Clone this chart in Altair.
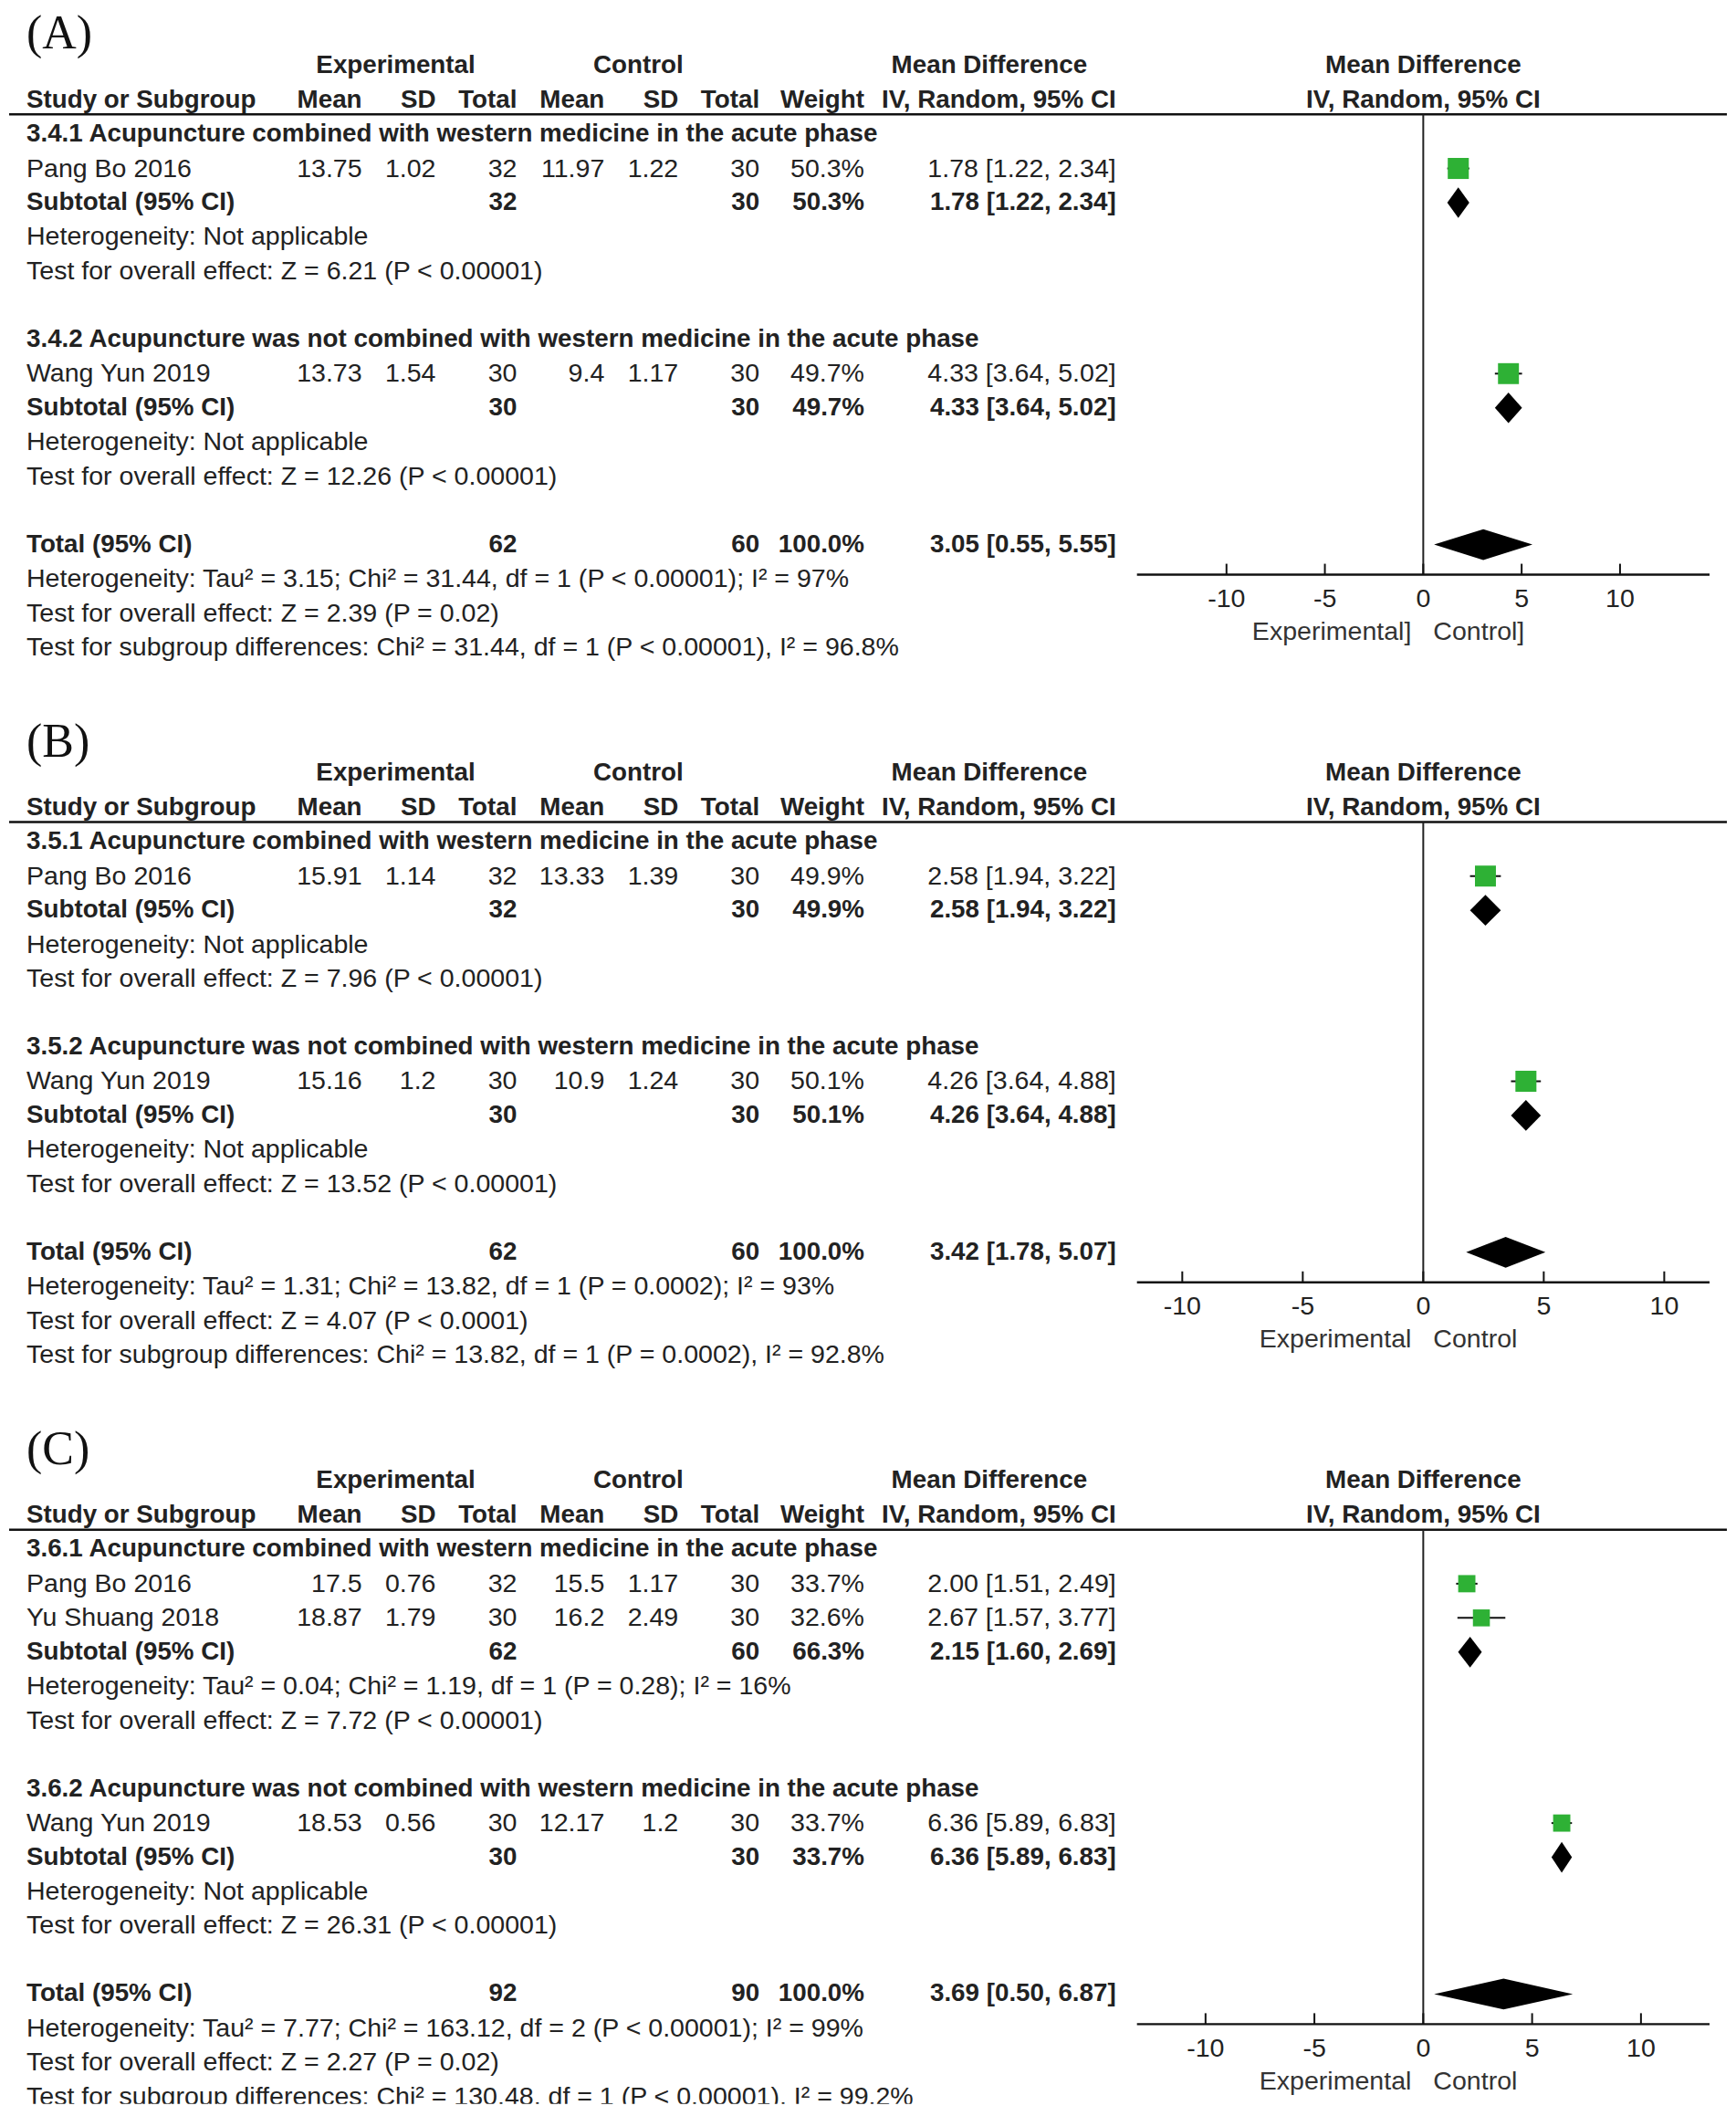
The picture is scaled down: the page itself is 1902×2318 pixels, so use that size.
import altair as alt
import pandas as pd

FONT = "Liberation Sans"
SERIF = "Liberation Serif"
TXT = "#222222"
GREEN = "#2eb135"
FS = 28.6
FSB = 27.8

# ---------------- Panel A ----------------
A_label = "(A)"
A_groups = ["3.4.1 Acupuncture combined with western medicine in the acute phase",
            "3.4.2 Acupuncture was not combined with western medicine in the acute phase"]
A_study = ["Pang Bo 2016", "Wang Yun 2019"]
A_study_group = [0, 1]
A_exp_mean = [13.75, 13.73]
A_exp_sd = [1.02, 1.54]
A_exp_n = [32, 30]
A_ctl_mean = [11.97, 9.4]
A_ctl_sd = [1.22, 1.17]
A_ctl_n = [30, 30]
A_weight = [50.3, 49.7]
A_md = [1.78, 4.33]
A_lo = [1.22, 3.64]
A_hi = [2.34, 5.02]
A_sub_exp_n = [32, 30]
A_sub_ctl_n = [30, 30]
A_sub_weight = [50.3, 49.7]
A_sub_md = [1.78, 4.33]
A_sub_lo = [1.22, 3.64]
A_sub_hi = [2.34, 5.02]
A_sub_het = ["Heterogeneity: Not applicable", "Heterogeneity: Not applicable"]
A_sub_test = ["Test for overall effect: Z = 6.21 (P < 0.00001)",
              "Test for overall effect: Z = 12.26 (P < 0.00001)"]
A_tot_n = [62, 60]
A_tot_weight = 100.0
A_tot_ci = [3.05, 0.55, 5.55]
A_tot_notes = ["Heterogeneity: Tau\u00b2 = 3.15; Chi\u00b2 = 31.44, df = 1 (P < 0.00001); I\u00b2 = 97%",
               "Test for overall effect: Z = 2.39 (P = 0.02)",
               "Test for subgroup differences: Chi\u00b2 = 31.44, df = 1 (P < 0.00001), I\u00b2 = 96.8%"]
A_xlim = 14.55
A_dirs = ["Experimental]", "Control]"]

# ---------------- Panel B ----------------
B_label = "(B)"
B_groups = ["3.5.1 Acupuncture combined with western medicine in the acute phase",
            "3.5.2 Acupuncture was not combined with western medicine in the acute phase"]
B_study = ["Pang Bo 2016", "Wang Yun 2019"]
B_study_group = [0, 1]
B_exp_mean = [15.91, 15.16]
B_exp_sd = [1.14, 1.2]
B_exp_n = [32, 30]
B_ctl_mean = [13.33, 10.9]
B_ctl_sd = [1.39, 1.24]
B_ctl_n = [30, 30]
B_weight = [49.9, 50.1]
B_md = [2.58, 4.26]
B_lo = [1.94, 3.64]
B_hi = [3.22, 4.88]
B_sub_exp_n = [32, 30]
B_sub_ctl_n = [30, 30]
B_sub_weight = [49.9, 50.1]
B_sub_md = [2.58, 4.26]
B_sub_lo = [1.94, 3.64]
B_sub_hi = [3.22, 4.88]
B_sub_het = ["Heterogeneity: Not applicable", "Heterogeneity: Not applicable"]
B_sub_test = ["Test for overall effect: Z = 7.96 (P < 0.00001)",
              "Test for overall effect: Z = 13.52 (P < 0.00001)"]
B_tot_n = [62, 60]
B_tot_weight = 100.0
B_tot_ci = [3.42, 1.78, 5.07]
B_tot_notes = ["Heterogeneity: Tau\u00b2 = 1.31; Chi\u00b2 = 13.82, df = 1 (P = 0.0002); I\u00b2 = 93%",
               "Test for overall effect: Z = 4.07 (P < 0.0001)",
               "Test for subgroup differences: Chi\u00b2 = 13.82, df = 1 (P = 0.0002), I\u00b2 = 92.8%"]
B_xlim = 11.88
B_dirs = ["Experimental", "Control"]

# ---------------- Panel C ----------------
C_label = "(C)"
C_groups = ["3.6.1 Acupuncture combined with western medicine in the acute phase",
            "3.6.2 Acupuncture was not combined with western medicine in the acute phase"]
C_study = ["Pang Bo 2016", "Yu Shuang 2018", "Wang Yun 2019"]
C_study_group = [0, 0, 1]
C_exp_mean = [17.5, 18.87, 18.53]
C_exp_sd = [0.76, 1.79, 0.56]
C_exp_n = [32, 30, 30]
C_ctl_mean = [15.5, 16.2, 12.17]
C_ctl_sd = [1.17, 2.49, 1.2]
C_ctl_n = [30, 30, 30]
C_weight = [33.7, 32.6, 33.7]
C_md = [2.00, 2.67, 6.36]
C_lo = [1.51, 1.57, 5.89]
C_hi = [2.49, 3.77, 6.83]
C_sub_exp_n = [62, 30]
C_sub_ctl_n = [60, 30]
C_sub_weight = [66.3, 33.7]
C_sub_md = [2.15, 6.36]
C_sub_lo = [1.60, 5.89]
C_sub_hi = [2.69, 6.83]
C_sub_het = ["Heterogeneity: Tau\u00b2 = 0.04; Chi\u00b2 = 1.19, df = 1 (P = 0.28); I\u00b2 = 16%",
             "Heterogeneity: Not applicable"]
C_sub_test = ["Test for overall effect: Z = 7.72 (P < 0.00001)",
              "Test for overall effect: Z = 26.31 (P < 0.00001)"]
C_tot_n = [92, 90]
C_tot_weight = 100.0
C_tot_ci = [3.69, 0.50, 6.87]
C_tot_notes = ["Heterogeneity: Tau\u00b2 = 7.77; Chi\u00b2 = 163.12, df = 2 (P < 0.00001); I\u00b2 = 99%",
               "Test for overall effect: Z = 2.27 (P = 0.02)",
               "Test for subgroup differences: Chi\u00b2 = 130.48, df = 1 (P < 0.00001), I\u00b2 = 99.2%"]
C_xlim = 13.15
C_dirs = ["Experimental", "Control"]

TICKS = [-10, -5, 0, 5, 10]
HEAD0 = ["Experimental", "Control", "Mean Difference", "Mean Difference"]
HEAD1 = ["Study or Subgroup", "Mean", "SD", "Total", "Mean", "SD", "Total", "Weight",
         "IV, Random, 95% CI", "IV, Random, 95% CI"]

# ---------------- layout (pixels inside each panel) ----------------
W = 1884
ROW0 = 63.0
ROWH = 37.5
COLS = {
    "study": (19, "left"), "em": (387, "right"), "esd": (468, "right"), "en": (557, "right"),
    "cm": (653, "right"), "csd": (734, "right"), "cn": (823, "right"), "w": (938, "right"),
    "ci": (1214, "right"), "hexp": (424, "center"), "hctl": (690, "center"),
    "hmd": (1075, "center"), "hplot": (1551, "center"),
}
XRANGE = [1237, 1865]
YS = alt.Scale(domain=[0, 18], range=[ROW0, ROW0 + 18 * ROWH], nice=False, zero=False)
DH = 0.45  # diamond half-height in row units


def fnum(v):
    return str(v)


def fci(m, l, h):
    return f"{m:.2f} [{l:.2f}, {h:.2f}]"


def build_panel(p, height):
    XS = alt.Scale(domain=[-p["xlim"], p["xlim"]], range=XRANGE, nice=False, zero=False)
    items = []  # (r, text, col, bold)
    hcols0 = ["hexp", "hctl", "hmd", "hplot"]
    for t, c in zip(HEAD0, hcols0):
        items.append((0, t, c, True))
    hcols1 = ["study", "em", "esd", "en", "cm", "csd", "cn", "w", "ci", "hplot"]
    for t, c in zip(HEAD1, hcols1):
        items.append((1, t, c, True))

    studies, subs = [], []
    r = 2
    for g, gname in enumerate(p["groups"]):
        items.append((r, gname, "study", True))
        r += 1
        for i, s in enumerate(p["study"]):
            if p["sg"][i] != g:
                continue
            items += [(r, s, "study", False), (r, fnum(p["em"][i]), "em", False),
                      (r, fnum(p["esd"][i]), "esd", False), (r, fnum(p["en"][i]), "en", False),
                      (r, fnum(p["cm"][i]), "cm", False), (r, fnum(p["csd"][i]), "csd", False),
                      (r, fnum(p["cn"][i]), "cn", False), (r, f"{p['w'][i]:.1f}%", "w", False),
                      (r, fci(p["md"][i], p["lo"][i], p["hi"][i]), "ci", False)]
            studies.append({"r": r, "md": p["md"][i], "lo": p["lo"][i], "hi": p["hi"][i],
                            "w": p["w"][i]})
            r += 1
        items += [(r, "Subtotal (95% CI)", "study", True), (r, fnum(p["sen"][g]), "en", True),
                  (r, fnum(p["scn"][g]), "cn", True), (r, f"{p['sw'][g]:.1f}%", "w", True),
                  (r, fci(p["smd"][g], p["slo"][g], p["shi"][g]), "ci", True)]
        subs.append({"r": r, "md": p["smd"][g], "lo": p["slo"][g], "hi": p["shi"][g]})
        r += 1
        items.append((r, p["shet"][g], "study", False))
        items.append((r + 1, p["stest"][g], "study", False))
        r += 3
    rt = r
    items += [(rt, "Total (95% CI)", "study", True), (rt, fnum(p["tn"][0]), "en", True),
              (rt, fnum(p["tn"][1]), "cn", True), (rt, f"{p['tw']:.1f}%", "w", True),
              (rt, fci(*p["tci"]), "ci", True)]
    subs.append({"r": rt, "md": p["tci"][0], "lo": p["tci"][1], "hi": p["tci"][2]})
    for k, note in enumerate(p["tnotes"]):
        items.append((rt + 1 + k, note, "study", False))

    tdf = pd.DataFrame(items, columns=["r", "t", "col", "b"])
    layers = []
    for (col, b), sub in tdf.groupby(["col", "b"]):
        x, al = COLS[col]
        layers.append(
            alt.Chart(sub).mark_text(align=al, baseline="middle", font=FONT,
                                     fontSize=FSB if b else FS,
                                     fontWeight="bold" if b else "normal", color=TXT, clip=True)
            .encode(x=alt.value(x), y=alt.Y("r:Q", scale=YS, axis=None), text="t:N"))

    # panel label
    layers.append(
        alt.Chart(pd.DataFrame({"r": [-0.5], "t": [p["label"]]}))
        .mark_text(align="left", baseline="alphabetic", font=SERIF, fontSize=52, color="#111")
        .encode(x=alt.value(19), y=alt.Y("r:Q", scale=YS, axis=None), text="t:N"))

    r_head = 1.42
    r_axis = rt + 0.88
    # header rule
    layers.append(
        alt.Chart(pd.DataFrame({"r": [r_head]})).mark_rule(color="#111", strokeWidth=2.5)
        .encode(x=alt.value(0), x2=alt.value(W), y=alt.Y("r:Q", scale=YS, axis=None)))
    # zero line
    layers.append(
        alt.Chart(pd.DataFrame({"x": [0], "r1": [r_head], "r2": [r_axis]}))
        .mark_rule(color="#222", strokeWidth=2)
        .encode(x=alt.X("x:Q", scale=XS, axis=None), y=alt.Y("r1:Q", scale=YS, axis=None),
                y2="r2:Q"))
    # axis line
    layers.append(
        alt.Chart(pd.DataFrame({"x1": [-p["xlim"]], "x2": [p["xlim"]], "r": [r_axis]}))
        .mark_rule(color="#111", strokeWidth=2.5)
        .encode(x=alt.X("x1:Q", scale=XS, axis=None), x2="x2:Q",
                y=alt.Y("r:Q", scale=YS, axis=None)))
    tk = pd.DataFrame({"x": TICKS, "r1": [r_axis - 0.32] * 5, "r2": [r_axis] * 5,
                       "rl": [r_axis + 0.7] * 5, "t": [str(v) for v in TICKS]})
    layers.append(
        alt.Chart(tk).mark_rule(color="#111", strokeWidth=2)
        .encode(x=alt.X("x:Q", scale=XS, axis=None), y=alt.Y("r1:Q", scale=YS, axis=None),
                y2="r2:Q"))
    layers.append(
        alt.Chart(tk).mark_text(align="center", baseline="middle", font=FONT, fontSize=FS,
                                color=TXT)
        .encode(x=alt.X("x:Q", scale=XS, axis=None), y=alt.Y("rl:Q", scale=YS, axis=None),
                text="t:N"))
    dirs = pd.DataFrame({"x": [0, 0], "r": [r_axis + 1.67] * 2, "t": p["dirs"]})
    layers.append(
        alt.Chart(dirs.iloc[[0]]).mark_text(align="right", baseline="middle", font=FONT,
                                            fontSize=FS, color="#333", dx=-13)
        .encode(x=alt.X("x:Q", scale=XS, axis=None), y=alt.Y("r:Q", scale=YS, axis=None),
                text="t:N"))
    layers.append(
        alt.Chart(dirs.iloc[[1]]).mark_text(align="left", baseline="middle", font=FONT,
                                            fontSize=FS, color="#333", dx=11)
        .encode(x=alt.X("x:Q", scale=XS, axis=None), y=alt.Y("r:Q", scale=YS, axis=None),
                text="t:N"))

    sdf = pd.DataFrame(studies)
    layers.append(
        alt.Chart(sdf).mark_rule(color="#111", strokeWidth=2)
        .encode(x=alt.X("lo:Q", scale=XS, axis=None), x2="hi:Q",
                y=alt.Y("r:Q", scale=YS, axis=None)))
    layers.append(
        alt.Chart(sdf).mark_square(filled=True, color=GREEN, opacity=1)
        .encode(x=alt.X("md:Q", scale=XS, axis=None), y=alt.Y("r:Q", scale=YS, axis=None),
                size=alt.Size("w:Q", scale=alt.Scale(domain=[0, 100], range=[0, 1060]),
                              legend=None)))

    # pooled-estimate diamonds: one ranged area per diamond (lo -> estimate -> hi)
    for d in subs:
        ddf = pd.DataFrame({"x": [d["lo"], d["md"], d["hi"]],
                            "ya": [d["r"], d["r"] - DH, d["r"]],
                            "yb": [d["r"], d["r"] + DH, d["r"]]})
        layers.append(
            alt.Chart(ddf).mark_area(color="#000", opacity=1)
            .encode(x=alt.X("x:Q", scale=XS, axis=None),
                    y=alt.Y("ya:Q", scale=YS, axis=None),
                    y2=alt.Y2("yb:Q")))

    return alt.layer(*layers).properties(width=W, height=height)


def pack(pre):
    g = globals()
    return {"label": g[pre + "label"], "groups": g[pre + "groups"], "study": g[pre + "study"],
            "sg": g[pre + "study_group"], "em": g[pre + "exp_mean"], "esd": g[pre + "exp_sd"],
            "en": g[pre + "exp_n"], "cm": g[pre + "ctl_mean"], "csd": g[pre + "ctl_sd"],
            "cn": g[pre + "ctl_n"], "w": g[pre + "weight"], "md": g[pre + "md"],
            "lo": g[pre + "lo"], "hi": g[pre + "hi"], "sen": g[pre + "sub_exp_n"],
            "scn": g[pre + "sub_ctl_n"], "sw": g[pre + "sub_weight"], "smd": g[pre + "sub_md"],
            "slo": g[pre + "sub_lo"], "shi": g[pre + "sub_hi"], "shet": g[pre + "sub_het"],
            "stest": g[pre + "sub_test"], "tn": g[pre + "tot_n"], "tw": g[pre + "tot_weight"],
            "tci": g[pre + "tot_ci"], "tnotes": g[pre + "tot_notes"], "xlim": g[pre + "xlim"],
            "dirs": g[pre + "dirs"]}


pA = build_panel(pack("A_"), 776)
pB = build_panel(pack("B_"), 776)
pC = build_panel(pack("C_"), 746)

chart = alt.vconcat(pA, pB, pC, spacing=0, bounds="flush", padding=0).configure_view(stroke=None)
chart.save("out.html", embed_options={"renderer": "svg", "actions": False})
